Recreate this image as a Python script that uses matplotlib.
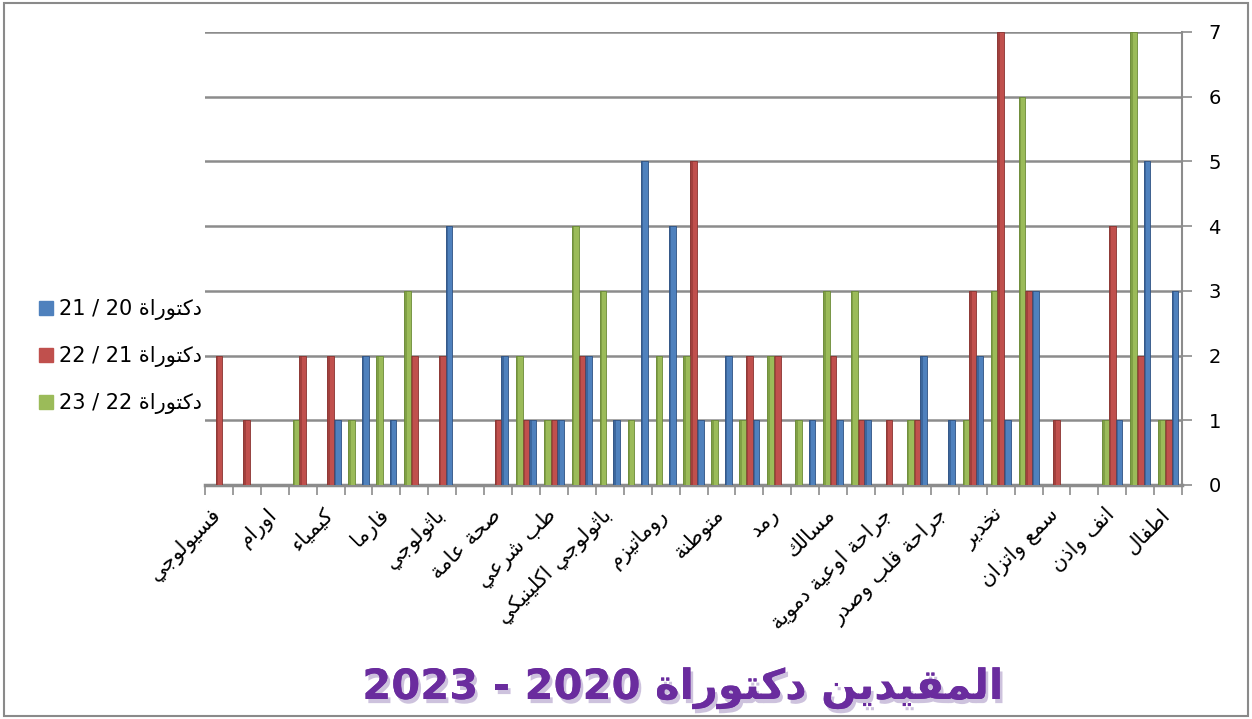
"""
plot.py — أعداد المقيدين دكتوراة 2020 - 2023 (عمود مجمع على نمط Excel)
"""
import matplotlib
matplotlib.use("Agg")
import matplotlib.pyplot as plt
import matplotlib.patheffects as pe
from matplotlib.lines import Line2D
from matplotlib.patches import Rectangle
from matplotlib.transforms import ScaledTranslation
import numpy as np

# الأقسام المعروضة (كل فئة ثانية تحمل اسما، الترتيب من اليمين)
labels = ["اطفال", "انف واذن", "سمع واتزان", "تخدير", "جراحة قلب وصدر",
          "جراحة اوعية دموية", "مسالك", "رمد", "متوطنة", "روماتيزم",
          "باثولوجي اكلينيكي", "طب شرعي", "صحة عامة", "باثولوجي", "فارما",
          "كيمياء", "اورام", "فسيولوجي"]

series_names = ["دكتوراة 20 / 21", "دكتوراة 21 / 22", "دكتوراة 22 / 23"]
v_20_21 = [3, 5, 1, 0, 0, 3, 1, 2, 1, 2, 0, 1, 1, 1, 0, 1, 2, 1,
           4, 5, 1, 2, 1, 1, 2, 0, 4, 0, 1, 2, 1, 0, 0, 0, 0]
v_21_22 = [1, 2, 4, 0, 1, 3, 7, 3, 0, 1, 1, 1, 2, 0, 2, 2, 0, 5,
           0, 0, 0, 2, 1, 1, 1, 0, 2, 2, 0, 0, 2, 2, 0, 1, 2]
v_22_23 = [1, 7, 1, 0, 0, 6, 3, 1, 0, 1, 0, 3, 3, 1, 2, 1, 1, 2,
           2, 1, 3, 4, 1, 2, 0, 0, 0, 3, 2, 1, 0, 1, 0, 0, 0]

title = "المقيدين دكتوراة 2020 - 2023"

colors = ["#4F81BD", "#C0504D", "#9BBB59"]
dark = ["#2E5283", "#8A3330", "#6B8A36"]

# --- تشكيل الحروف العربية يدويا (matplotlib لا يقوم بالتشكيل ولا باتجاه RTL)
_DUAL = {"ئ": 0xFE89, "ب": 0xFE8F, "ت": 0xFE95, "ث": 0xFE99, "ج": 0xFE9D,
         "ح": 0xFEA1, "خ": 0xFEA5, "س": 0xFEB1, "ش": 0xFEB5, "ص": 0xFEB9,
         "ض": 0xFEBD, "ط": 0xFEC1, "ظ": 0xFEC5, "ع": 0xFEC9, "غ": 0xFECD,
         "ف": 0xFED1, "ق": 0xFED5, "ك": 0xFED9, "ل": 0xFEDD, "م": 0xFEE1,
         "ن": 0xFEE5, "ه": 0xFEE9, "ي": 0xFEF1}
_RIGHT = {"آ": 0xFE81, "أ": 0xFE83, "ؤ": 0xFE85, "إ": 0xFE87, "ا": 0xFE8D,
          "ة": 0xFE93, "د": 0xFEA9, "ذ": 0xFEAB, "ر": 0xFEAD, "ز": 0xFEAF,
          "و": 0xFEED, "ى": 0xFEEF}
_NONE = {"ء": 0xFE80}
_LAMALEF = {"آ": 0xFEF5, "أ": 0xFEF7, "إ": 0xFEF9, "ا": 0xFEFB}


def _shape(word):
    chars = []
    i = 0
    while i < len(word):
        c = word[i]
        if c == "ل" and i + 1 < len(word) and word[i + 1] in _LAMALEF:
            chars.append(("LA", word[i + 1]))
            i += 2
        else:
            chars.append(("C", c))
            i += 1

    def joins_next(item):
        return item[0] == "C" and item[1] in _DUAL

    def joinable(item):
        return item[0] == "LA" or item[1] in _DUAL or item[1] in _RIGHT

    out = []
    for k, item in enumerate(chars):
        prev_j = k > 0 and joins_next(chars[k - 1]) and joinable(item)
        next_j = (k + 1 < len(chars) and joins_next(item)
                  and joinable(chars[k + 1]))
        if item[0] == "LA":
            out.append(chr(_LAMALEF[item[1]] + (1 if prev_j else 0)))
            continue
        c = item[1]
        if c in _DUAL:
            b = _DUAL[c]
            off = 3 if (prev_j and next_j) else 1 if prev_j else 2 if next_j else 0
            out.append(chr(b + off))
        elif c in _RIGHT:
            out.append(chr(_RIGHT[c] + (1 if prev_j else 0)))
        elif c in _NONE:
            out.append(chr(_NONE[c]))
        else:
            out.append(c)
    return "".join(out)


def rtl(s):
    parts = []
    for tok in reversed(s.split(" ")):
        if any("\u0621" <= ch <= "\u064A" for ch in tok):
            parts.append(_shape(tok)[::-1])
        else:
            parts.append(tok)
    return " ".join(parts)


values = [v_20_21, v_21_22, v_22_23]
n = len(v_20_21)
x = np.arange(n)
w = 0.24
offsets = [-w, 0.0, w]   # المحور معكوس: الأزرق يظهر يمينا

fig = plt.figure(figsize=(12.52, 7.19), dpi=100)
ax = fig.add_axes([0.1637, 0.3255, 0.7805, 0.6300])

for vals, off, col, dk in zip(values, offsets, colors, dark):
    ax.bar(x + off, vals, width=w, color=col, edgecolor=dk, linewidth=0.6,
           zorder=3)
    # وجه جانبي داكن لمحاكاة الشكل ثلاثي الأبعاد
    ax.bar(x + off + w * 0.32, vals, width=w * 0.36, color=dk, alpha=0.55,
           linewidth=0, zorder=4)

ax.set_xlim(n - 0.5, -0.5)
ax.set_ylim(0, 7)
ax.set_yticks(range(0, 8))
ax.yaxis.tick_right()
ax.tick_params(axis="y", labelsize=14, length=7, width=1.2, color="#8c8c8c",
               pad=12, labelcolor="black")
ax.grid(axis="y", color="#8c8c8c", linewidth=1.8, zorder=0)
ax.set_axisbelow(True)

ax.set_xticks(x[::2])
ax.set_xticklabels([rtl(s) for s in labels], rotation=45, ha="right",
                   rotation_mode="anchor", fontsize=15)
ax.set_xticks(np.arange(-0.5, n, 1), minor=True)
ax.tick_params(axis="x", which="major", length=0, pad=14)
ax.tick_params(axis="x", which="minor", length=7, width=1.2, color="#8c8c8c")
shift = ScaledTranslation(-8 / 100, 0, fig.dpi_scale_trans)
for lab in ax.get_xticklabels():
    lab.set_transform(lab.get_transform() + shift)

for side in ("left", "top"):
    ax.spines[side].set_visible(False)
ax.spines["right"].set_color("#8c8c8c")
ax.spines["right"].set_linewidth(1.5)
ax.spines["bottom"].set_color("#8c8c8c")
ax.spines["bottom"].set_linewidth(2.5)

handles = [Line2D([], [], marker="s", linestyle="none", markersize=10,
                  markerfacecolor=c, markeredgecolor=c) for c in colors]
fig.legend(handles, [rtl(s) for s in series_names], loc="upper left",
           bbox_to_anchor=(0.014, 0.61), frameon=False, fontsize=15,
           handletextpad=0.2, labelspacing=1.25, handlelength=0.9)

fig.text(0.545, 0.043, rtl(title), ha="center", va="center", fontsize=30,
         fontweight="bold", color="#6A2C9E",
         path_effects=[pe.withSimplePatchShadow(offset=(2, -3),
                                                shadow_rgbFace="#b9a9cf",
                                                alpha=0.7),
                       pe.Normal()])

fig.patches.append(Rectangle((0.003, 0.004), 0.994, 0.992, fill=False,
                             edgecolor="#8a8a8a", linewidth=1.5,
                             transform=fig.transFigure))

fig.savefig("out.png", dpi=100)
